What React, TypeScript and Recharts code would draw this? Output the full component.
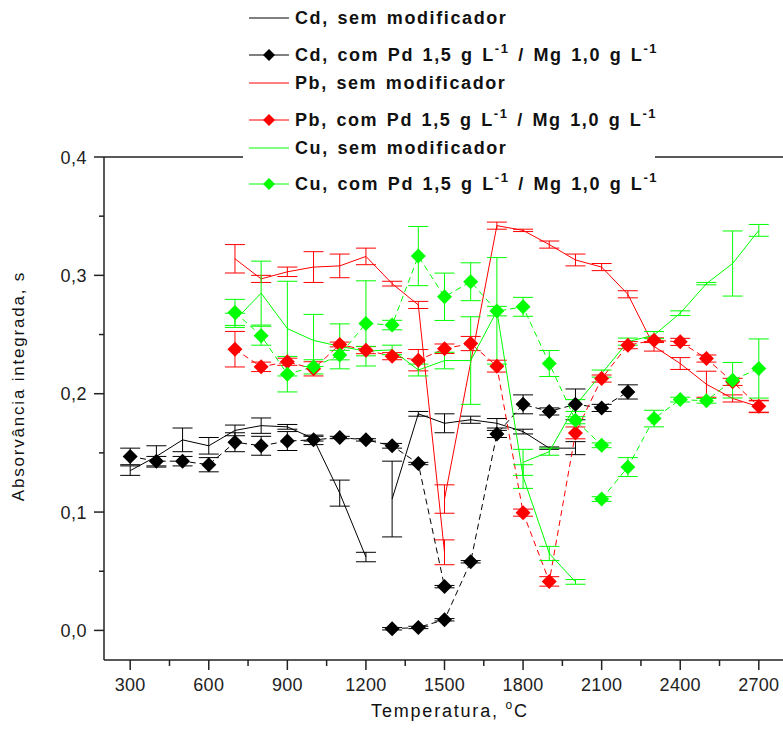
import React from "react";
import { ComposedChart, ErrorBar, Label, Legend, Line, ReferenceLine, XAxis, YAxis } from "recharts";

const FONT = "'Liberation Sans', Arial, sans-serif";
const AXIS = "#222";
const _ = null;

const TEMPS = [300, 400, 500, 600, 700, 800, 900, 1000, 1100, 1200, 1300, 1400, 1500, 1600, 1700, 1800, 1900, 2000, 2100, 2200, 2300, 2400, 2500, 2600, 2700];
const X_TICKS = [300, 450, 600, 750, 900, 1050, 1200, 1350, 1500, 1650, 1800, 1950, 2100, 2250, 2400, 2550, 2700];
const Y_TICKS = [0, 0.05, 0.1, 0.15, 0.2, 0.25, 0.3, 0.35, 0.4];

// values line up with TEMPS; null = no measurement
const cdSemA = [0.135, 0.147, 0.161, 0.156, 0.169, 0.173, 0.172, 0.162, 0.116, 0.062, _, _, _, _, _, _, _, _, _, _, _, _, _, _, _];
const cdSemAErr = [0.004, 0.009, 0.01, 0.007, 0.0045, 0.0065, 0.002, 0.002, 0.011, 0.004, _, _, _, _, _, _, _, _, _, _, _, _, _, _, _];
const cdSemB = [_, _, _, _, _, _, _, _, _, _, 0.111, 0.183, 0.175, 0.178, 0.175, 0.168, 0.154, 0.154, _, _, _, _, _, _, _];
const cdSemBErr = [_, _, _, _, _, _, _, _, _, _, 0.032, 0.002, 0.008, 0.003, 0.004, 0.002, 0.001, 0.0055, _, _, _, _, _, _, _];

const cdComA = [0.147, 0.143, 0.143, 0.14, 0.159, 0.156, 0.16, 0.161, 0.163, 0.161, 0.156, 0.141, 0.037, _, _, _, _, _, _, _, _, _, _, _, _];
const cdComAErr = [0.007, 0.004, 0.004, 0.006, 0.008, 0.008, 0.008, 0.004, 0.001, 0.001, 0.002, 0.001, 0.001, _, _, _, _, _, _, _, _, _, _, _, _];
const cdComB = [_, _, _, _, _, _, _, _, _, _, 0.0014, 0.0025, 0.009, 0.058, 0.166, 0.191, 0.185, 0.191, 0.188, 0.2015, _, _, _, _, _];
const cdComBErr = [_, _, _, _, _, _, _, _, _, _, 0.001, 0.001, 0.001, 0.001, 0.003, 0.008, 0.003, 0.013, 0.003, 0.006, _, _, _, _, _];

const pbSemA = [_, _, _, _, 0.314, 0.297, 0.303, 0.307, 0.308, 0.316, 0.293, 0.275, 0.066, _, _, _, _, _, _, _, _, _, _, _, _];
const pbSemAErr = [_, _, _, _, 0.012, 0.003, 0.004, 0.013, 0.01, 0.007, 0.002, 0.003, 0.0105, _, _, _, _, _, _, _, _, _, _, _, _];
const pbSemB = [_, _, _, _, _, _, _, _, _, _, _, _, 0.111, _, 0.342, 0.338, 0.326, 0.313, 0.307, 0.284, 0.24, 0.2255, 0.208, 0.196, 0.189];
const pbSemBErr = [_, _, _, _, _, _, _, _, _, _, _, _, 0.012, _, 0.003, 0.001, 0.003, 0.005, 0.003, 0.003, 0.004, 0.005, 0.011, 0.003, 0.005];

const pbCom = [_, _, _, _, 0.2376, 0.2227, 0.227, 0.221, 0.2416, 0.2368, 0.2317, 0.2283, 0.238, 0.2424, 0.2233, 0.0995, 0.0414, 0.1669, 0.2128, 0.241, 0.2452, 0.2438, 0.2297, 0.21, 0.1894];
const pbComErr = [_, _, _, _, 0.015, 0.004, 0.003, 0.006, 0.002, 0.003, 0.003, 0.009, 0.004, 0.006, 0.005, 0.003, 0.004, 0.005, 0.003, 0.003, 0.002, 0.003, 0.003, 0.003, 0.005];

const cuSemA = [_, _, _, _, 0.262, 0.285, 0.255, 0.245, 0.24, 0.236, 0.237, 0.22, 0.228, 0.228, 0.27, 0.13, 0.065, 0.041, _, _, _, _, _, _, _];
const cuSemAErr = [_, _, _, _, 0.006, 0.027, 0.04, 0.022, 0.019, 0.004, 0.004, 0.005, 0.007, 0.037, 0.045, 0.01, 0.006, 0.002, _, _, _, _, _, _, _];
const cuSemB = [_, _, _, _, _, _, _, _, _, _, _, _, _, _, _, 0.142, 0.151, 0.19, 0.217, 0.244, 0.2495, 0.268, 0.293, 0.31, 0.338];
const cuSemBErr = [_, _, _, _, _, _, _, _, _, _, _, _, _, _, _, 0.011, 0.003, 0.005, 0.003, 0.003, 0.003, 0.002, 0.001, 0.0275, 0.005];

const cuComA = [_, _, _, _, 0.2687, 0.249, 0.2165, 0.2227, 0.2326, 0.2594, 0.258, 0.3163, 0.2819, 0.2946, 0.2698, 0.2734, 0.2255, 0.1776, 0.1564, _, _, _, _, _, _];
const cuComAErr = [_, _, _, _, 0.011, 0.008, 0.015, 0.006, 0.004, 0.036, 0.004, 0.025, 0.02, 0.016, 0.004, 0.008, 0.011, 0.003, 0.002, _, _, _, _, _, _];
const cuComB = [_, _, _, _, _, _, _, _, _, _, _, _, _, _, _, _, _, _, 0.111, 0.138, 0.179, 0.195, 0.194, 0.2114, 0.2213];
const cuComBErr = [_, _, _, _, _, _, _, _, _, _, _, _, _, _, _, _, _, _, 0.002, 0.008, 0.007, 0.002, 0.002, 0.015, 0.025];

const BLACK = "#000000";
const RED = "#ff0000";
const GREEN = "#00ff00";

const rows = (v: (number | null)[], e: (number | null)[]) =>
  TEMPS.map((t, i) => ({ t, v: v[i], e: e[i] })).filter((r) => r.v != null);

const SERIES = [
  { id: "cdSemA", color: BLACK, marker: false, data: rows(cdSemA, cdSemAErr) },
  { id: "cdSemB", color: BLACK, marker: false, data: rows(cdSemB, cdSemBErr) },
  { id: "cdComA", color: BLACK, marker: true, data: rows(cdComA, cdComAErr) },
  { id: "cdComB", color: BLACK, marker: true, data: rows(cdComB, cdComBErr) },
  { id: "pbSemA", color: RED, marker: false, data: rows(pbSemA, pbSemAErr) },
  { id: "pbSemB", color: RED, marker: false, data: rows(pbSemB, pbSemBErr) },
  { id: "pbCom", color: RED, marker: true, data: rows(pbCom, pbComErr) },
  { id: "cuSemA", color: GREEN, marker: false, data: rows(cuSemA, cuSemAErr) },
  { id: "cuSemB", color: GREEN, marker: false, data: rows(cuSemB, cuSemBErr) },
  { id: "cuComA", color: GREEN, marker: true, data: rows(cuComA, cuComAErr) },
  { id: "cuComB", color: GREEN, marker: true, data: rows(cuComB, cuComBErr) },
];

const COM = ", com Pd 1,5 g L";
const LEGEND = [
  { el: "Cd", color: BLACK, marker: false },
  { el: "Cd", color: BLACK, marker: true },
  { el: "Pb", color: RED, marker: false },
  { el: "Pb", color: RED, marker: true },
  { el: "Cu", color: GREEN, marker: false },
  { el: "Cu", color: GREEN, marker: true },
];
const LEGEND_Y = [18, 55, 83, 120, 148, 184];

const diamondPath = (cx: number, cy: number, r: number) =>
  `M${cx},${cy - r}L${cx + r},${cy}L${cx},${cy + r}L${cx - r},${cy}Z`;

const diamondDot = (color: string) => (p: any) =>
  p.cx == null || p.cy == null ? <g key={p.index} /> : <path key={p.index} d={diamondPath(p.cx, p.cy, 7.5)} fill={color} stroke="none" />;

const XTick = ({ x, y, payload }: any) => {
  const major = payload.value % 300 === 0;
  return (
    <g>
      <line x1={x} x2={x} y1={y} y2={y + (major ? 10 : 6)} stroke={AXIS} strokeWidth={1.5} />
      {major && (
        <text x={x} y={y + 31} textAnchor="middle" fontSize={18} letterSpacing={0.3} fill="#222" fontFamily={FONT}>
          {payload.value}
        </text>
      )}
    </g>
  );
};

const YTick = ({ x, y, payload }: any) => {
  const major = Math.round(payload.value * 100) % 10 === 0;
  return (
    <g>
      <line x1={x - (major ? 10 : 5)} x2={x} y1={y} y2={y} stroke={AXIS} strokeWidth={1.5} />
      {major && (
        <text x={x - 17} y={y + 6.5} textAnchor="end" fontSize={18} letterSpacing={0.5} fill="#222" fontFamily={FONT}>
          {payload.value.toFixed(1).replace(".", ",")}
        </text>
      )}
    </g>
  );
};

const XTitle = () => (
  <text x={450} y={717} textAnchor="middle" fontSize={18} letterSpacing={1.8} fill="#111" fontFamily={FONT}>
    Temperatura,{" "}
    <tspan dy={-8} fontSize={12}>o</tspan>
    <tspan dy={8}>C</tspan>
  </text>
);

const YTitle = () => (
  <text x={24} y={386} transform="rotate(-90, 24, 386)" textAnchor="middle" fontSize={17} letterSpacing={1.8} fill="#111" fontFamily={FONT}>
    Absorvância integrada, s
  </text>
);

const Sup = ({ children }: { children: React.ReactNode }) => (
  <span style={{ fontSize: 13, position: "relative", top: -8, lineHeight: 0 }}>{children}</span>
);

const LegendBox = () => (
  <div style={{ position: "relative", width: 412, height: 200, background: "#fff", fontFamily: FONT }}>
    {LEGEND.map((s, i) => (
      <div
        key={i}
        style={{ position: "absolute", left: 6, top: LEGEND_Y[i] - 12, height: 24, display: "flex", alignItems: "center", whiteSpace: "nowrap" }}
      >
        <svg width={40} height={24}>
          <line x1={0} x2={40} y1={12} y2={12} stroke={s.color} strokeWidth={1} />
          {s.marker && <path d={diamondPath(20, 12, 6)} fill={s.color} />}
        </svg>
        <span style={{ marginLeft: 6, fontSize: 18, fontWeight: "bold", letterSpacing: 1.6, wordSpacing: 2, lineHeight: "24px", color: "#111" }}>
          {s.marker ? (
            <>
              {s.el}{COM}<Sup>-1</Sup> / Mg 1,0 g L<Sup>-1</Sup>
            </>
          ) : (
            `${s.el}, sem modificador`
          )}
        </span>
      </div>
    ))}
  </div>
);

export default function App() {
  return (
    <div style={{ width: 783, height: 745, overflow: "hidden", background: "#fff", fontFamily: FONT }}>
      <style>{"html,body{margin:0;padding:0;overflow:hidden}"}</style>
      <ComposedChart width={800} height={745} margin={{ top: 157, right: 15, bottom: 35, left: 44 }}>
        <XAxis
          dataKey="t"
          type="number"
          domain={[200, 2800]}
          allowDataOverflow
          ticks={X_TICKS}
          interval={0}
          height={50}
          tickSize={0}
          tickMargin={0}
          tickLine={false}
          axisLine={{ stroke: AXIS, strokeWidth: 1.5 }}
          tick={XTick}
        >
          <Label content={XTitle} />
        </XAxis>
        <YAxis
          type="number"
          domain={[-0.025, 0.4]}
          allowDataOverflow
          ticks={Y_TICKS}
          interval={0}
          width={60}
          tickSize={0}
          tickMargin={0}
          tickLine={false}
          axisLine={{ stroke: AXIS, strokeWidth: 1.5 }}
          tick={YTick}
        >
          <Label content={YTitle} />
        </YAxis>
        <ReferenceLine y={0.4} stroke={AXIS} strokeWidth={1.5} />
        {SERIES.map((s) => (
          <Line
            key={s.id}
            data={s.data}
            dataKey="v"
            stroke={s.color}
            strokeWidth={1}
            strokeDasharray={s.marker ? "6 4" : undefined}
            dot={s.marker ? diamondDot(s.color) : false}
            activeDot={false}
            legendType="none"
            isAnimationActive={false}
          >
            <ErrorBar dataKey="e" width={10} stroke={s.color} strokeWidth={1} direction="y" />
          </Line>
        ))}
        <Legend
          layout="vertical"
          verticalAlign="middle"
          align="center"
          wrapperStyle={{ top: 0, left: 243, width: 412, height: 200 }}
          content={LegendBox}
        />
      </ComposedChart>
    </div>
  );
}
